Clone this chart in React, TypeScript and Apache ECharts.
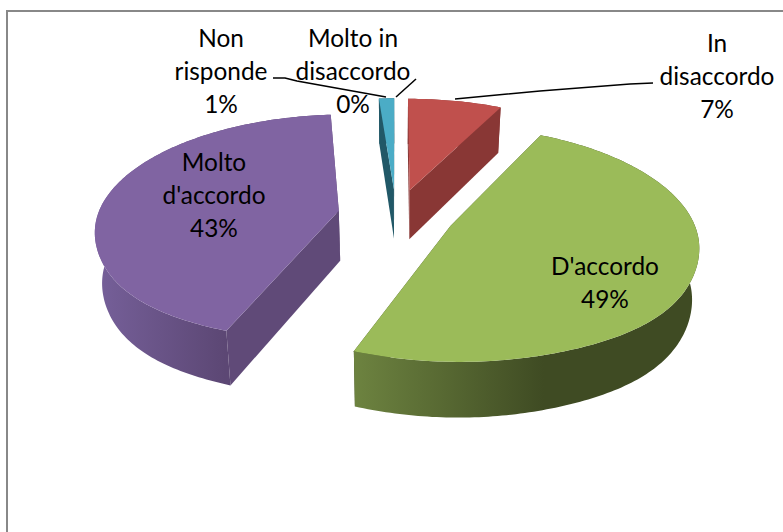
import React, { useEffect, useRef } from "react";
import * as echarts from "echarts";

const categories = ["Molto in disaccordo", "In disaccordo", "D'accordo", "Molto d'accordo", "Non risponde"];
const percentages = [0, 7.4, 48.6, 42.8, 1.2];

const W = 783, H = 532;
const CAM = { x0: 398, y0: 215, A: 241, B: 112, k: 0.15, D: 50, shrink: 0.024, bulge: 0.016 };
const STYLE = [
  { top: "#4f81bd", wall: "#385d8a", outer: ["#385d8a", "#385d8a"], explode: 0.235, dx: 0 },
  { top: "#c0504d", wall: "#893735", outer: ["#893735", "#893735"], explode: 0.235, dx: -1 },
  { top: "#9bbb59", wall: "#3f4b23", outer: ["#6d8340", "#3f4b23"], explode: 0.235, dx: 0 },
  { top: "#8064a2", wall: "#604a78", outer: ["#76609a", "#5c4774"], explode: 0.25, dx: 0 },
  { top: "#4bacc6", wall: "#215867", outer: ["#215867", "#215867"], explode: 0.235, dx: -2 },
];
const LABELS = [
  { x: 353, y: 70, lines: ["Molto in", "disaccordo"] },
  { x: 717, y: 75, lines: ["In", "disaccordo"] },
  { x: 605, y: 282, lines: ["D'accordo"] },
  { x: 214, y: 194, lines: ["Molto", "d'accordo"] },
  { x: 221, y: 70, lines: ["Non", "risponde"] },
];
const LEADERS = [
  [[416, 79], [396, 97]],
  [[653, 83], [630, 84], [540, 91], [455, 99]],
  [[273, 78], [285, 78], [297, 81], [386, 97]],
];

function project(X: number, Y: number, level: number): number[] {
  const s = 1 / (1 - CAM.k * Y);
  const lv = 1 - CAM.shrink * level;
  return [
    CAM.x0 + CAM.A * X * s * lv,
    CAM.y0 + CAM.B * Y * s + CAM.D * Math.pow(s, 0.6) * level,
  ];
}

function renderSlice(params: any, api: any) {
  const i = params.dataIndex;
  const v = api.value(0) as number;
  const total = percentages.reduce((a, b) => a + b, 0);
  const before = percentages.slice(0, i).reduce((a, b) => a + b, 0);
  const a0 = (before / total) * 2 * Math.PI;
  const a1 = ((before + v) / total) * 2 * Math.PI;
  if (v <= 0) return { type: "group", children: [] };
  const st = STYLE[i];
  const mid = (a0 + a1) / 2;
  const ox = Math.sin(mid) * st.explode;
  const oy = -Math.cos(mid) * st.explode;
  const rim = (a: number, lv: number) => {
    const near = Math.cos(a) < 0;
    const r = near ? 1 + CAM.bulge * Math.pow(Math.sin(2 * a), 4) : 1;
    return project(ox + r * Math.sin(a), oy - r * Math.cos(a), lv);
  };
  const apex = (lv: number) => project(ox, oy, lv);
  const N = Math.max(4, Math.round((a1 - a0) * 60));
  const topRim: number[][] = [];
  const botRim: number[][] = [];
  for (let n = 0; n <= N; n++) {
    const a = a0 + ((a1 - a0) * n) / N;
    topRim.push(rim(a, 0));
    botRim.push(rim(a, 1));
  }
  const wall = (a: number) => ({
    type: "polygon",
    shape: { points: [apex(0), rim(a, 0), rim(a, 1), apex(1)] },
    style: { fill: st.wall },
  });
  return {
    type: "group",
    x: st.dx,
    children: [
      wall(a0),
      wall(a1),
      {
        type: "polygon",
        shape: { points: [...topRim, ...botRim.slice().reverse()] },
        style: {
          fill: new echarts.graphic.LinearGradient(0, 0, 1, 0, [
            { offset: 0, color: st.outer[0] },
            { offset: 0.55, color: st.outer[1] },
            { offset: 1, color: st.outer[1] },
          ]),
        },
      },
      {
        type: "polygon",
        shape: { points: [apex(0), ...topRim] },
        style: { fill: st.top },
      },
    ],
  };
}

export default function App() {
  const ref = useRef<HTMLDivElement>(null);
  useEffect(() => {
    document.body.style.margin = "0";
    const chart = echarts.init(ref.current!, null, { renderer: "svg" });
    const font = "Lato, Carlito, 'Open Sans', sans-serif";
    chart.setOption({
      animation: false,
      backgroundColor: "#ffffff",
      series: [
        {
          type: "custom",
          coordinateSystem: "none",
          renderItem: renderSlice,
          data: percentages.map((p, i) => ({ name: categories[i], value: [p] })),
          silent: true,
        },
      ],
      graphic: [
        {
          type: "polyline",
          shape: { points: [[7, H + 4], [7, 11], [W + 4, 11]] },
          style: { stroke: "#888888", lineWidth: 2, fill: "none" },
          z: 0,
        },
        ...LEADERS.map((points) => ({
          type: "polyline",
          shape: { points },
          style: { stroke: "#000000", lineWidth: 1.5, fill: "none" },
          z: 10,
        })),
        ...LABELS.map((l, i) => ({
          type: "text",
          x: l.x,
          y: l.y,
          z: 11,
          style: {
            text: [...l.lines, `${Math.round(percentages[i])}%`].join("\n"),
            fill: "#000000",
            font: `24.4px ${font}`,
            lineHeight: 33,
            align: "center",
            verticalAlign: "middle",
          },
        })),
      ],
    });
    return () => chart.dispose();
  }, []);
  return <div ref={ref} style={{ width: W, height: H }} />;
}
